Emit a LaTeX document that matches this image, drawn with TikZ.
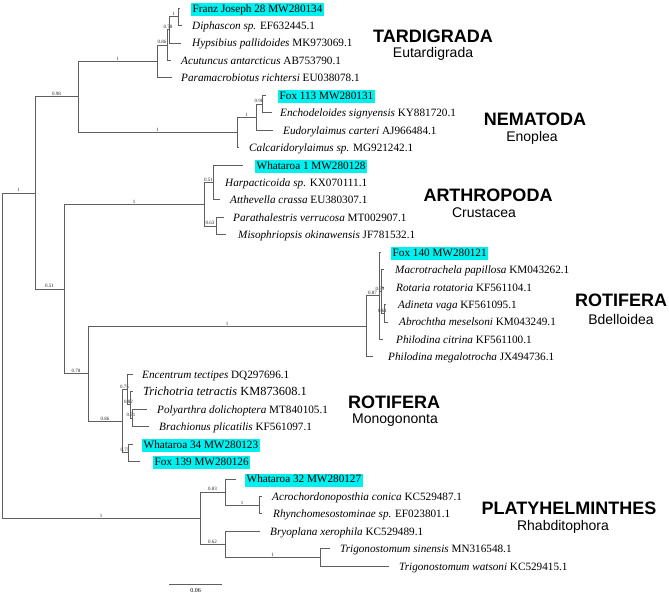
\documentclass[tikz,border=0pt]{standalone}
\usepackage{fontspec}
\setmainfont{Liberation Serif}
\setsansfont{Liberation Sans}
\definecolor{linec}{RGB}{95,95,95}
\definecolor{hlc}{RGB}{0,240,240}
\begin{document}
\begin{tikzpicture}[x=1pt,y=-1pt,
  br/.style={draw=linec, line width=0.8pt},
  sup/.style={font=\fontsize{5}{5}\selectfont, inner sep=0.6pt, above, text=black!85},
  leaf/.style={anchor=base west, inner sep=0pt, font=\fontsize{11.2}{13}\selectfont},
  hl/.style={leaf, fill=hlc, inner xsep=1.5pt, inner ysep=1.5pt, text height=7.8pt, text depth=2.4pt},
  clade/.style={font=\fontsize{18}{20}\selectfont\bfseries\sffamily, inner sep=0pt},
  subc/.style={font=\fontsize{14}{16}\selectfont\sffamily, inner sep=0pt}]
\useasboundingbox (0,0) rectangle (669,595);

% ---------- internal nodes ----------
\coordinate (root) at (2,355.5);
\coordinate (A) at (35,192.9);
\coordinate (B) at (78,96.8);
\coordinate (Ct) at (157,61.4);
\coordinate (D) at (167,45.0);
\coordinate (E) at (169,29.8);
\coordinate (F) at (178,16.7);
\coordinate (N1) at (237,132.3);
\coordinate (N2) at (256,117.0);
\coordinate (N3) at (262,103.9);
\coordinate (G) at (64,289.0);
\coordinate (R) at (204,204.2);
\coordinate (R1) at (213,182.4);
\coordinate (R2) at (216,226.0);
\coordinate (H) at (88,373.7);
\coordinate (B0) at (366,326.3);
\coordinate (B1) at (379,295.8);
\coordinate (B2) at (381,291.4);
\coordinate (B3) at (384,313.2);
\coordinate (M) at (122,421.1);
\coordinate (M1) at (127,389.5);
\coordinate (M2) at (130,404.8);
\coordinate (M3) at (132,417.9);
\coordinate (M4) at (128,452.7);
\coordinate (P) at (200,518.1);
\coordinate (P1) at (225,492.0);
\coordinate (P2) at (259,505.05);
\coordinate (P3) at (225,544.3);
\coordinate (P4) at (320,557.35);

% ---------- tips ----------
\coordinate (t1) at (180,8.0);
\coordinate (t2) at (182,25.4);
\coordinate (t3) at (181,42.9);
\coordinate (t4) at (171,60.3);
\coordinate (t5) at (172,77.8);
\coordinate (t6) at (266,95.2);
\coordinate (t7) at (272,112.6);
\coordinate (t8) at (273,130.1);
\coordinate (t9) at (239,147.5);
\coordinate (t10) at (243,165.0);
\coordinate (t11) at (214,182.4);
\coordinate (t12) at (220,199.8);
\coordinate (t13) at (224,217.3);
\coordinate (t14) at (226,234.7);
\coordinate (t15) at (381,252.2);
\coordinate (t16) at (384,269.6);
\coordinate (t17) at (384,287.0);
\coordinate (t18) at (386,304.5);
\coordinate (t19) at (388,321.9);
\coordinate (t20) at (383,339.4);
\coordinate (t21) at (373,356.8);
\coordinate (t22) at (133,374.2);
\coordinate (t23) at (133,391.7);
\coordinate (t24) at (147,409.1);
\coordinate (t25) at (149,426.6);
\coordinate (t26) at (133,444.0);
\coordinate (t27) at (140,461.4);
\coordinate (t28) at (236,478.9);
\coordinate (t29) at (262,496.3);
\coordinate (t30) at (262,513.8);
\coordinate (t31) at (260,531.2);
\coordinate (t32) at (330,548.6);
\coordinate (t33) at (389,566.1);

% ---------- branches ----------
\draw[br] (root) |- node[sup,pos=0.75]{1} (A);
\draw[br] (root) |- node[sup,pos=0.75]{1} (P);
\draw[br] (A) |- node[sup,pos=0.75]{0.98} (B);
\draw[br] (A) |- node[sup,pos=0.75]{0.51} (G);
\draw[br] (B) |- node[sup,pos=0.75]{1} (Ct);
\draw[br] (B) |- node[sup,pos=0.75]{1} (N1);
\draw[br] (Ct) |- node[sup,pos=0.75]{0.86} (D);
\draw[br] (Ct) |- (t5);
\draw[br] (D) |- node[sup,pos=0.75]{0.78} (E);
\draw[br] (D) |- (t4);
\draw[br] (E) |- node[sup,pos=0.75]{1} (F);
\draw[br] (E) |- (t3);
\draw[br] (F) |- (t1);
\draw[br] (F) |- (t2);
\draw[br] (N1) |- node[sup,pos=0.75]{1} (N2);
\draw[br] (N1) |- (t9);
\draw[br] (N2) |- node[sup,pos=0.75]{0.98} (N3);
\draw[br] (N2) |- (t8);
\draw[br] (N3) |- (t6);
\draw[br] (N3) |- (t7);
\draw[br] (G) |- node[sup,pos=0.75]{1} (R);
\draw[br] (G) |- node[sup,pos=0.75]{0.78} (H);
\draw[br] (R) |- node[sup,pos=0.75]{0.51} (R1);
\draw[br] (R) |- node[sup,pos=0.75]{0.63} (R2);
\draw[br] (R1) |- (t10);
\draw[br] (R1) |- (t11);
\draw[br] (R1) |- (t12);
\draw[br] (R2) |- (t13);
\draw[br] (R2) |- (t14);
\draw[br] (H) |- node[sup,pos=0.75]{1} (B0);
\draw[br] (H) |- node[sup,pos=0.75]{0.86} (M);
\draw[br] (B0) |- node[sup,pos=0.75]{0.87} (B1);
\draw[br] (B0) |- (t21);
\draw[br] (B1) |- (t15);
\draw[br] (B1) |- (t20);
\draw[br] (B1) |- node[sup,pos=0.75]{0.59} (B2);
\draw[br] (B2) |- (t16);
\draw[br] (B2) |- (t17);
\draw[br] (B2) |- node[sup,pos=0.75]{0.61} (B3);
\draw[br] (B3) |- (t18);
\draw[br] (B3) |- (t19);
\draw[br] (M) |- node[sup,pos=0.75]{0.75} (M1);
\draw[br] (M) |- node[sup,pos=0.75]{0.75} (M4);
\draw[br] (M1) |- (t22);
\draw[br] (M1) |- node[sup,pos=0.75]{0.82} (M2);
\draw[br] (M2) |- (t23);
\draw[br] (M2) |- node[sup,pos=0.75]{0.71} (M3);
\draw[br] (M3) |- (t24);
\draw[br] (M3) |- (t25);
\draw[br] (M4) |- (t26);
\draw[br] (M4) |- (t27);
\draw[br] (P) |- node[sup,pos=0.75]{0.83} (P1);
\draw[br] (P) |- node[sup,pos=0.75]{0.62} (P3);
\draw[br] (P1) |- (t28);
\draw[br] (P1) |- node[sup,pos=0.75]{1} (P2);
\draw[br] (P2) |- (t29);
\draw[br] (P2) |- (t30);
\draw[br] (P3) |- (t31);
\draw[br] (P3) |- node[sup,pos=0.75]{1} (P4);
\draw[br] (P4) |- (t32);
\draw[br] (P4) |- (t33);

% ---------- leaf labels ----------
\node[hl] (l1) at (191,12.0) {Franz Joseph 28 MW280134};
\node[leaf] (l2) at (192,29.4) {\textit{Diphascon sp.} EF632445.1};
\node[leaf] (l3) at (192,46.9) {\textit{Hypsibius pallidoides} MK973069.1};
\node[leaf] (l4) at (181,64.3) {\textit{Acutuncus antarcticus} AB753790.1};
\node[leaf] (l5) at (181,81.8) {\textit{Paramacrobiotus richtersi} EU038078.1};
\node[hl] (l6) at (278,99.2) {Fox 113 MW280131};
\node[leaf] (l7) at (280,116.6) {\textit{Enchodeloides signyensis} KY881720.1};
\node[leaf] (l8) at (283,134.1) {\textit{Eudorylaimus carteri} AJ966484.1};
\node[leaf] (l9) at (249,151.5) {\textit{Calcaridorylaimus sp.} MG921242.1};
\node[hl] (l10) at (255,169.0) {Whataroa 1 MW280128};
\node[leaf] (l11) at (225,186.4) {\textit{Harpacticoida sp.} KX070111.1};
\node[leaf] (l12) at (230,203.8) {\textit{Atthevella crassa} EU380307.1};
\node[leaf] (l13) at (233,221.3) {\textit{Parathalestris verrucosa} MT002907.1};
\node[leaf] (l14) at (238,238.7) {\textit{Misophriopsis okinawensis} JF781532.1};
\node[hl] (l15) at (391,256.2) {Fox 140 MW280121};
\node[leaf] (l16) at (395,273.6) {\textit{Macrotrachela papillosa} KM043262.1};
\node[leaf] (l17) at (396,291.0) {\textit{Rotaria rotatoria} KF561104.1};
\node[leaf] (l18) at (398,308.5) {\textit{Adineta vaga} KF561095.1};
\node[leaf] (l19) at (399,325.9) {\textit{Abrochtha meselsoni} KM043249.1};
\node[leaf] (l20) at (396,343.4) {\textit{Philodina citrina} KF561100.1};
\node[leaf] (l21) at (388,360.8) {\textit{Philodina megalotrocha} JX494736.1};
\node[leaf] (l22) at (142,378.2) {\textit{Encentrum tectipes} DQ297696.1};
\node[leaf,font=\fontsize{12.4}{14}\selectfont] (l23) at (143,395.9) {\textit{Trichotria tetractis} KM873608.1};
\node[leaf] (l24) at (157,413.1) {\textit{Polyarthra dolichoptera} MT840105.1};
\node[leaf] (l25) at (159,430.6) {\textit{Brachionus plicatilis} KF561097.1};
\node[hl] (l26) at (142,448.0) {Whataroa 34 MW280123};
\node[hl] (l27) at (153,465.4) {Fox 139 MW280126};
\node[hl] (l28) at (245,482.9) {Whataroa 32 MW280127};
\node[leaf] (l29) at (272,500.3) {\textit{Acrochordonoposthia conica} KC529487.1};
\node[leaf] (l30) at (273,517.8) {\textit{Rhynchomesostominae sp.} EF023801.1};
\node[leaf] (l31) at (270,535.2) {\textit{Bryoplana xerophila} KC529489.1};
\node[leaf] (l32) at (340,552.6) {\textit{Trigonostomum sinensis} MN316548.1};
\node[leaf] (l33) at (399,570.1) {\textit{Trigonostomum watsoni} KC529415.1};

% ---------- clade labels ----------
\node[clade] (c1) at (433,36) {TARDIGRADA};
\node[subc] (s1) at (433,54) {Eutardigrada};
\node[clade] (c2) at (535,119) {NEMATODA};
\node[subc] (s2) at (532,138) {Enoplea};
\node[clade] (c3) at (488,195) {ARTHROPODA};
\node[subc] (s3) at (484,213) {Crustacea};
\node[clade] (c4) at (621,300) {ROTIFERA};
\node[subc] (s4) at (621,319) {Bdelloidea};
\node[clade] (c5) at (394,402) {ROTIFERA};
\node[subc] (s5) at (395,420) {Monogononta};
\node[clade] (c6) at (569,508) {PLATYHELMINTHES};
\node[subc] (s6) at (563,527) {Rhabditophora};

% ---------- scale bar ----------
\coordinate (sb1) at (169,584);
\coordinate (sb2) at (222,584);
\draw[br] (sb1) -- (sb2);
\node[font=\fontsize{6}{6}\selectfont, inner sep=0pt] (sbl) at (195.5,591) {0.06};
\end{tikzpicture}
\end{document}
